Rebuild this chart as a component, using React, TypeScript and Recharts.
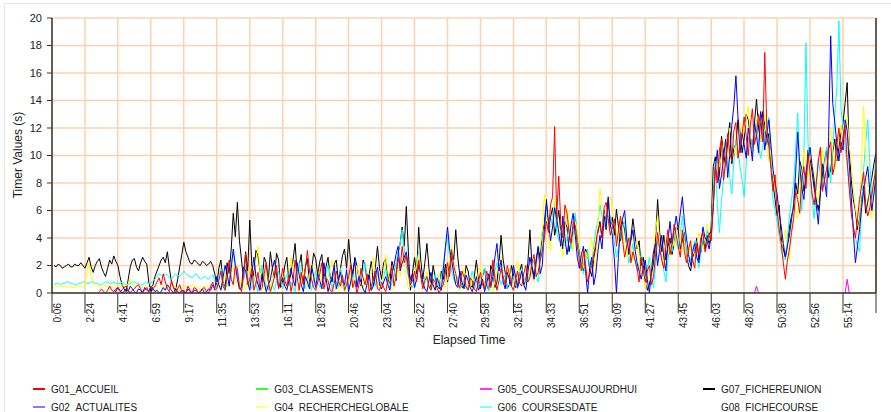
import React from 'react';
import { LineChart, Line, XAxis, YAxis, CartesianGrid } from 'recharts';

const FONT = '"Liberation Sans", Arial, sans-serif';
const _ = null;

// elapsed time axis (m:ss), one label every 2:18
const TICK_LABELS = [
  '0:06', '2:24', '4:41', '6:59', '9:17', '11:35', '13:53', '16:11', '18:29', '20:46',
  '23:04', '25:22', '27:40', '29:58', '32:16', '34:33', '36:51', '39:09', '41:27', '43:45',
  '46:03', '48:20', '50:38', '52:56', '55:14',
];
const START_S = 6;
const END_S = 3452;
const SAMPLES = 401;
const Y_TICKS = [0, 2, 4, 6, 8, 10, 12, 14, 16, 18, 20];

// timer values (s), 16 samples per tick interval
const G01: (number | null)[] = [
  _, _, _, _, _, _, _, _, _, _, _, _, _, _, _, _,
  _, _, _, _, _, _, _, 0.1, 0.3, 0.1, 0.0, 0.2, 0.5, 0.2, 0.1, 0.3,
  0.4, 0.1, 0.2, 0.4, 0.5, 0.2, 0.0, 0.2, 0.3, 0.5, 0.6, 0.3, 0.1, 0.2, 0.4, 0.1,
  0.0, 0.3, 0.5, 0.8, 1.1, 0.6, 1.4, 0.8, 0.3, 0.1, 0.9, 0.4, 0.0, 0.3, 0.6, 0.1,
  0.2, 0.0, 0.5, 0.2, 0.0, 0.4, 0.3, 0.0, 0.1, 0.3, 0.4, 0.1, 0.0, 0.5, 0.8, 0.2,
  0.3, 0.9, 1.6, 0.5, 0.2, 1.2, 2.4, 1.0, 0.6, 2.0, 1.8, 0.4, 0.1, 1.4, 2.9, 0.6,
  1.0, 1.8, 0.2, 0.7, 1.5, 0.2, 0.4, 1.4, 2.2, 0.8, 0.1, 0.6, 1.2, 2.0, 0.3, 0.9,
  1.8, 0.9, 0.5, 1.3, 0.1, 0.8, 2.4, 1.2, 0.2, 1.5, 0.6, 1.8, 3.1, 1.6, 1.0, 0.4,
  0.2, 0.8, 1.4, 2.2, 0.3, 1.1, 0.9, 0.2, 0.1, 0.7, 1.6, 0.9, 0.5, 1.3, 0.2, 0.6,
  1.2, 2.0, 0.4, 0.9, 0.0, 0.6, 1.8, 1.1, 0.6, 1.4, 0.1, 0.5, 1.0, 1.6, 0.3, 0.2,
  0.8, 0.4, 0.1, 0.9, 1.4, 2.0, 0.5, 1.2, 2.6, 1.8, 3.4, 2.2, 2.8, 1.4, 0.6, 0.9,
  1.6, 0.8, 2.4, 1.2, 0.3, 0.9, 1.2, 0.5, 0.2, 1.0, 0.8, 0.3, 0.0, 0.4, 0.6, 1.5,
  2.2, 1.2, 3.0, 2.0, 1.4, 0.6, 0.4, 1.6, 1.2, 0.5, 0.2, 1.1, 0.9, 0.3, 0.1, 0.8,
  1.5, 0.6, 0.3, 1.6, 1.0, 0.4, 2.4, 1.1, 0.2, 0.9, 1.8, 1.2, 0.6, 2.0, 1.4, 0.5,
  0.2, 0.9, 1.6, 0.7, 0.5, 1.4, 2.0, 0.8, 1.1, 2.2, 2.8, 1.2, 1.5, 2.4, 3.0, 4.0,
  5.2, 4.4, 6.4, 7.0, 12.1, 5.6, 8.5, 5.0, 4.0, 6.4, 5.8, 4.4, 3.6, 5.2, 4.9, 3.4,
  2.4, 1.6, 3.1, 2.0, 0.8, 1.4, 2.0, 2.8, 3.6, 4.6, 5.0, 4.0, 6.2, 6.6, 5.4, 4.2,
  4.8, 5.4, 3.4, 4.6, 5.6, 3.8, 2.6, 3.4, 4.0, 2.2, 3.0, 2.4, 1.8, 0.8, 2.6, 1.6,
  0.8, 1.6, 2.0, 0.6, 1.2, 2.8, 4.4, 3.2, 2.4, 1.8, 3.4, 4.6, 2.8, 3.6, 5.0, 4.2,
  3.4, 2.6, 4.6, 3.0, 2.2, 3.2, 3.8, 2.4, 1.8, 3.6, 2.8, 4.0, 4.4, 3.0, 3.6, 4.4,
  3.8, 6.4, 9.2, 8.0, 10.4, 11.2, 8.2, 9.6, 11.6, 10.2, 9.6, 11.8, 12.4, 9.8, 10.8, 11.6,
  12.8, 11.4, 10.0, 12.2, 13.4, 10.8, 11.6, 13.0, 12.2, 11.0, 17.5, 12.0, 10.6, 9.0, 7.4, 8.6,
  6.0, 4.6, 3.6, 2.2, 1.0, 2.4, 3.2, 4.4, 5.4, 7.4, 6.8, 5.8, 8.4, 9.2, 7.6, 10.0,
  8.8, 7.2, 6.4, 8.0, 9.6, 10.6, 7.4, 8.2, 9.0, 10.4, 11.0, 8.6, 9.4, 10.8, 12.0, 10.2,
  11.4, 12.2, 9.6, 7.6, 5.8, 4.8, 4.0, 5.4, 6.8, 7.8, 8.8, 6.4, 5.6, 6.2, 7.2, 8.2, 9.0,
];

const G02: (number | null)[] = [
  _, _, _, _, _, _, _, _, _, _, _, _, _, _, _, _,
  _, _, _, _, _, _, _, _, _, _, _, _, _, _, 0.2, 0.1,
  0.4, 0.2, 0.0, 0.1, 0.3, 0.1, 0.5, 0.3, 0.1, 0.0, 0.3, 0.2, 0.0, 0.4, 0.2, 0.1,
  0.5, 0.3, 0.1, 0.2, 0.0, 0.1, 0.4, 0.2, 0.6, 0.4, 0.2, 0.0, 0.3, 0.1, 0.0, 0.2,
  0.1, 0.0, 0.3, 0.1, 0.0, 0.2, 0.2, 0.0, 0.1, 0.3, 0.0, 0.1, 0.3, 0.2, 0.6, 0.3,
  1.2, 0.6, 0.2, 1.1, 2.0, 1.4, 0.5, 1.8, 3.2, 2.0, 1.0, 0.3, 0.4, 1.9, 1.6, 0.8,
  0.2, 1.4, 2.6, 1.2, 0.6, 0.2, 1.4, 0.8, 0.1, 0.6, 1.0, 1.8, 2.4, 1.3, 0.4, 0.8,
  1.1, 0.5, 0.2, 0.9, 1.8, 1.0, 0.5, 2.2, 1.3, 0.6, 0.1, 1.2, 0.8, 0.3, 2.0, 1.2,
  0.4, 1.4, 0.9, 0.3, 2.2, 1.1, 0.1, 0.7, 1.2, 2.0, 0.3, 0.9, 1.5, 0.8, 0.6, 1.7,
  0.1, 0.8, 1.6, 2.4, 0.4, 1.2, 0.8, 0.3, 0.0, 0.7, 1.3, 0.2, 0.5, 1.2, 1.9, 0.6,
  0.3, 0.8, 1.2, 0.6, 0.2, 1.4, 2.0, 2.8, 3.4, 1.6, 2.2, 2.6, 3.0, 1.8, 1.0, 1.4,
  0.4, 1.0, 2.0, 1.4, 0.8, 0.3, 0.1, 0.9, 1.5, 0.6, 0.2, 1.1, 0.6, 0.2, 1.8, 3.4,
  4.8, 3.2, 2.4, 1.4, 0.6, 0.4, 1.6, 0.8, 0.3, 1.3, 0.9, 0.4, 0.1, 0.6, 1.2, 0.2,
  0.5, 1.0, 0.1, 0.7, 1.4, 0.5, 1.2, 2.6, 3.6, 1.6, 2.4, 0.8, 0.3, 1.5, 1.0, 0.5,
  2.0, 1.2, 0.4, 0.9, 1.6, 0.6, 0.2, 1.5, 2.6, 1.8, 1.0, 2.2, 3.4, 1.4, 2.0, 4.6,
  6.6, 5.2, 3.8, 4.8, 6.2, 5.4, 4.4, 3.4, 5.6, 4.0, 2.8, 3.8, 5.0, 5.8, 4.2, 2.6,
  1.8, 2.8, 3.4, 1.6, 0.0, 1.8, 2.6, 0.6, 1.4, 3.0, 4.2, 3.2, 5.6, 4.6, 7.0, 5.0,
  4.2, 2.4, 0.0, 2.8, 4.8, 5.4, 6.0, 4.0, 3.0, 3.8, 4.6, 3.2, 2.2, 1.6, 1.0, 1.8,
  2.4, 1.0, 0.0, 1.6, 3.0, 3.6, 2.0, 3.2, 4.2, 2.6, 1.6, 3.8, 5.2, 3.6, 4.6, 5.6,
  4.6, 5.8, 7.0, 5.2, 4.0, 2.8, 2.0, 3.0, 3.6, 2.6, 2.2, 3.6, 4.8, 4.0, 3.8, 3.2,
  4.2, 6.2, 9.0, 10.4, 7.6, 8.6, 9.8, 11.2, 8.4, 10.0, 12.2, 13.6, 15.8, 12.8, 10.2, 11.6,
  10.8, 9.8, 12.0, 11.0, 9.6, 12.4, 11.4, 10.2, 13.2, 12.4, 10.4, 11.6, 12.6, 10.8, 9.0, 8.0,
  7.2, 5.8, 4.8, 3.6, 2.6, 3.4, 4.2, 5.4, 6.4, 8.8, 11.7, 9.2, 7.6, 6.8, 8.8, 9.8,
  10.6, 9.2, 8.2, 6.4, 5.0, 7.2, 9.4, 8.2, 7.0, 11.4, 18.7, 13.8, 12.4, 10.8, 9.6, 11.0,
  10.4, 12.6, 11.8, 9.4, 7.0, 4.4, 2.2, 3.4, 4.6, 6.2, 7.4, 8.4, 9.2, 7.4, 6.0, 7.2, 8.6,
];

// no G03 samples are visible in the chart
const G03: (number | null)[] = [];

const G04: (number | null)[] = [
  _, 0.4, 0.5, 0.5, 0.4, 0.5, 0.5, 0.4, 0.5, 0.5, 0.4, 0.4, 0.5, 0.5, 0.5, 0.4,
  0.6, 1.6, 2.2, 1.2, 0.9, 0.6, 0.5, 0.5, 0.4, 0.5, 0.6, 0.4, 0.5, 0.5, 0.4, 0.5,
  0.5, 0.4, 0.6, 0.5, 0.5, 0.7, 1.0, 0.6, 0.4, 0.5, 0.5, 0.4, 0.4, 0.5, 0.5, 0.4,
  0.4, 0.5, 0.5, 0.4, 0.3, 0.4, 0.6, 0.5, 0.4, 0.4, 0.5, 0.5, 0.4, 0.3, 0.3, 0.4,
  0.5, 0.5, 0.4, 0.5, 0.6, 0.5, 0.5, 0.4, 0.3, 0.4, 0.5, 0.5, 0.4, 0.4, 0.5, 0.6,
  0.8, 0.5, 0.2, 0.9, 1.4, 0.6, 0.4, 1.5, 2.0, 1.1, 0.6, 0.2, 1.2, 0.7, 0.3, 1.2,
  2.0, 0.6, 1.0, 2.4, 3.4, 1.6, 0.6, 0.2, 1.6, 1.0, 0.2, 1.2, 2.2, 1.4, 0.5, 0.9,
  1.4, 0.7, 0.3, 1.2, 2.6, 1.6, 0.8, 0.4, 0.1, 0.9, 1.7, 1.1, 0.4, 1.5, 2.2, 1.3,
  0.6, 1.0, 1.8, 0.8, 0.2, 0.6, 1.2, 1.8, 2.4, 1.4, 0.5, 0.2, 0.9, 0.5, 0.1, 0.8,
  1.5, 0.9, 0.4, 1.3, 2.0, 1.2, 0.6, 0.3, 1.1, 0.7, 0.2, 1.6, 2.6, 1.4, 0.8, 0.4,
  0.3, 1.6, 2.8, 1.6, 0.9, 0.2, 0.4, 1.2, 1.8, 1.2, 2.6, 2.0, 1.2, 0.3, 0.5, 0.9,
  1.2, 2.0, 2.8, 1.3, 0.4, 0.9, 1.6, 1.0, 0.6, 0.3, 0.2, 0.8, 1.4, 0.6, 0.3, 0.7,
  1.0, 2.4, 3.6, 1.6, 0.8, 0.4, 0.2, 1.1, 1.8, 1.0, 0.5, 0.3, 1.2, 0.8, 0.6, 1.5,
  2.0, 1.1, 0.4, 0.6, 1.2, 0.5, 0.1, 0.9, 1.6, 2.1, 2.6, 1.2, 0.5, 1.1, 1.8, 1.0,
  0.6, 1.4, 2.4, 1.5, 1.0, 0.5, 0.3, 1.2, 1.9, 1.2, 0.8, 1.6, 2.8, 3.4, 4.4, 7.2,
  6.0, 4.2, 3.0, 5.2, 7.0, 5.6, 4.6, 3.4, 2.6, 4.2, 6.2, 5.0, 4.0, 3.2, 5.2, 4.6,
  3.6, 2.4, 1.8, 3.0, 2.6, 3.2, 4.0, 2.6, 1.6, 5.0, 7.6, 6.4, 5.8, 4.4, 5.0, 7.0,
  6.2, 5.0, 4.4, 3.6, 5.6, 4.6, 3.2, 2.6, 4.2, 3.4, 2.4, 3.0, 3.8, 2.4, 1.6, 1.0,
  0.4, 0.8, 1.2, 2.2, 3.2, 4.6, 5.6, 3.6, 2.0, 3.0, 4.0, 3.2, 2.6, 4.2, 3.4, 4.6,
  5.4, 4.2, 3.0, 3.8, 2.4, 2.8, 3.6, 3.0, 2.8, 3.6, 4.4, 3.8, 3.2, 4.0, 5.0, 4.4,
  4.0, 6.6, 8.4, 10.2, 9.2, 10.0, 11.0, 9.8, 9.4, 12.0, 11.6, 10.6, 10.0, 11.4, 12.4, 10.8,
  11.8, 12.6, 13.6, 11.4, 10.2, 11.8, 12.4, 13.0, 11.0, 12.0, 13.0, 11.0, 9.6, 10.4, 8.6, 7.6,
  6.6, 5.0, 3.2, 3.8, 4.6, 3.4, 2.4, 4.8, 7.0, 6.0, 5.4, 7.4, 8.6, 10.4, 9.4, 8.4,
  10.0, 9.4, 8.8, 7.4, 6.4, 8.6, 10.6, 9.2, 8.0, 10.2, 12.0, 10.4, 9.0, 10.0, 11.4, 12.2,
  10.6, 11.6, 12.8, 10.8, 9.4, 7.6, 6.2, 5.2, 4.4, 9.8, 13.6, 10.6, 8.0, 6.4, 5.4, 7.8, 9.6,
];

const G05: (number | null)[] = [
  _, _, _, _, _, _, _, _, _, _, _, _, _, _, _, _,
  _, _, _, _, _, _, _, _, _, _, _, _, _, _, _, _,
  _, _, _, _, _, _, _, _, _, _, _, _, _, _, _, _,
  _, _, _, _, _, _, _, _, _, _, _, _, _, _, _, _,
  _, _, _, _, _, _, _, _, _, _, _, _, _, _, _, _,
  _, _, _, _, _, _, _, _, _, _, _, _, _, _, _, _,
  _, _, _, _, _, _, _, _, _, _, _, _, _, _, _, _,
  _, _, _, _, _, _, _, _, _, _, _, _, _, _, _, _,
  _, _, _, _, _, _, _, _, _, _, _, _, _, _, _, _,
  _, _, _, _, _, _, _, _, _, _, _, _, _, _, _, _,
  _, _, _, _, _, _, _, _, _, _, _, _, _, _, _, _,
  _, _, _, _, _, _, _, _, _, _, _, _, _, _, _, _,
  _, _, _, _, _, _, _, _, _, _, _, _, _, _, _, _,
  _, _, _, _, _, _, _, _, _, _, _, _, _, _, _, _,
  _, _, _, _, _, _, _, _, _, _, _, _, _, _, _, _,
  _, _, _, _, _, _, _, _, _, _, _, _, _, _, _, _,
  _, _, _, _, _, _, _, _, _, _, _, _, _, _, _, _,
  _, _, _, _, _, _, _, _, _, _, _, _, _, _, _, _,
  _, _, _, _, _, _, _, _, _, _, _, _, _, _, _, _,
  _, _, _, _, _, _, _, _, _, _, _, _, _, _, _, _,
  _, _, _, _, _, _, _, _, _, _, _, _, _, _, _, _,
  _, _, _, _, _, 0.0, 0.5, 0.0, _, _, _, _, _, _, _, _,
  _, _, _, _, _, _, _, _, _, _, _, _, _, _, _, _,
  _, _, _, _, _, _, _, _, _, _, _, _, _, _, _, _,
  _, 0.0, 1.0, 0.0, _, _, _, _, _, _, _, _, _, _, _, _, _,
];

const G06: (number | null)[] = [
  _, 0.6, 0.7, 0.7, 0.6, 0.7, 0.7, 0.8, 0.8, 0.7, 0.7, 0.6, 0.6, 0.7, 0.7, 0.8,
  0.8, 0.7, 0.7, 0.8, 0.8, 0.7, 0.7, 0.6, 0.6, 0.7, 0.8, 0.8, 0.7, 0.7, 0.8, 0.7,
  0.7, 0.7, 0.8, 0.7, 0.6, 0.6, 0.7, 0.8, 0.8, 0.7, 0.7, 0.6, 0.6, 0.7, 0.8, 0.7,
  0.7, 0.9, 1.0, 1.2, 1.4, 1.3, 1.2, 1.4, 1.3, 1.1, 1.0, 1.2, 1.4, 1.3, 1.2, 1.4,
  1.6, 1.4, 1.3, 1.2, 1.1, 1.3, 1.4, 1.2, 1.0, 1.1, 1.2, 1.1, 1.0, 1.2, 1.3, 0.9,
  0.4, 1.2, 1.8, 0.8, 0.2, 0.6, 1.0, 2.2, 3.0, 2.0, 1.4, 0.7, 0.3, 1.1, 2.0, 1.2,
  0.6, 0.3, 1.2, 0.6, 0.1, 1.1, 2.0, 1.2, 0.5, 0.2, 1.0, 0.6, 0.2, 0.9, 1.6, 0.8,
  0.3, 0.9, 1.4, 0.5, 0.8, 0.4, 0.1, 1.3, 2.2, 1.1, 0.6, 0.3, 1.2, 0.7, 0.2, 1.0,
  1.6, 0.8, 0.4, 0.6, 1.0, 1.4, 2.0, 1.0, 0.3, 1.2, 0.8, 0.4, 1.8, 1.2, 0.5, 0.9,
  0.2, 0.7, 1.4, 0.9, 0.6, 1.3, 1.0, 1.6, 2.2, 1.0, 0.4, 0.2, 0.9, 0.5, 1.5, 1.0,
  0.6, 1.2, 1.8, 0.9, 0.3, 0.7, 1.2, 2.2, 3.0, 3.6, 4.6, 3.2, 2.0, 1.2, 0.8, 0.4,
  1.0, 2.2, 3.0, 1.4, 0.5, 1.2, 0.9, 0.4, 0.2, 0.8, 1.3, 0.7, 0.4, 1.1, 2.0, 3.2,
  4.2, 2.6, 1.6, 1.0, 0.7, 1.2, 0.2, 0.6, 1.0, 0.3, 0.4, 0.9, 1.6, 0.8, 0.3, 0.5,
  0.8, 1.3, 1.8, 0.8, 0.2, 0.5, 1.0, 1.6, 2.2, 1.2, 0.6, 0.9, 1.4, 0.3, 0.5, 1.0,
  1.2, 0.6, 0.3, 1.0, 1.8, 1.2, 0.7, 0.9, 1.4, 1.9, 2.4, 1.3, 0.8, 2.2, 3.6, 4.8,
  5.8, 5.0, 4.8, 5.6, 6.6, 4.4, 3.8, 4.6, 5.2, 3.4, 4.0, 4.8, 3.2, 4.2, 5.8, 3.8,
  2.8, 2.0, 1.4, 2.2, 3.2, 1.8, 2.2, 3.4, 4.6, 5.2, 6.4, 5.6, 4.8, 5.4, 6.0, 5.6,
  5.0, 3.6, 2.6, 3.4, 4.2, 4.8, 5.2, 3.4, 2.2, 2.8, 3.6, 2.4, 1.6, 2.2, 2.8, 1.8,
  1.0, 1.8, 2.6, 1.2, 0.4, 2.0, 3.8, 3.2, 2.8, 1.6, 0.8, 2.4, 3.6, 3.0, 4.4, 3.6,
  3.2, 4.4, 5.6, 4.0, 3.0, 2.2, 2.4, 3.2, 3.8, 2.6, 1.8, 3.0, 4.0, 3.6, 4.6, 3.8,
  4.4, 7.6, 9.6, 6.4, 4.4, 6.8, 8.2, 9.4, 10.0, 8.4, 7.2, 9.6, 11.2, 10.4, 9.2, 8.2,
  7.0, 9.4, 11.4, 10.8, 10.0, 11.6, 12.6, 10.6, 9.8, 10.6, 11.8, 12.2, 12.8, 9.6, 6.8, 6.0,
  5.2, 4.2, 3.0, 2.6, 2.4, 4.0, 5.6, 6.8, 8.0, 10.4, 13.1, 8.6, 6.0, 10.2, 18.2, 11.0,
  8.4, 6.8, 5.4, 7.4, 9.8, 8.6, 7.6, 9.2, 10.6, 9.4, 8.0, 10.4, 13.0, 15.0, 19.8, 13.4,
  12.0, 10.6, 9.4, 7.8, 6.4, 5.0, 4.0, 3.4, 3.0, 6.2, 9.0, 11.0, 12.6, 9.4, 6.8, 8.2, 9.8,
];

const G07: (number | null)[] = [
  _, 2.0, 1.9, 2.1, 2.0, 1.8, 1.9, 2.0, 2.1, 1.9, 1.9, 2.1, 2.0, 2.0, 2.2, 2.0,
  1.8, 2.2, 2.6, 1.9, 1.5, 2.0, 2.3, 2.5, 1.9, 1.5, 1.2, 1.8, 2.4, 2.1, 2.7, 2.3,
  2.0, 1.2, 0.6, 0.3, 0.1, 1.0, 1.9, 2.4, 2.5, 1.9, 1.6, 2.2, 2.6, 2.3, 2.1, 0.8,
  0.1, 0.6, 1.2, 1.6, 2.0, 2.4, 2.6, 2.2, 3.0, 1.8, 0.8, 0.4, 0.2, 1.0, 1.9, 2.8,
  3.7, 3.0, 2.6, 2.2, 2.1, 2.4, 2.3, 2.1, 2.0, 2.3, 2.2, 2.0, 2.1, 2.3, 2.0, 1.4,
  0.6, 1.8, 2.4, 0.9, 0.3, 2.2, 1.4, 3.2, 5.8, 4.1, 6.6, 3.8, 2.4, 1.0, 3.0, 1.6,
  5.3, 2.0, 1.2, 3.1, 2.7, 1.6, 0.8, 2.6, 2.2, 0.9, 3.0, 1.8, 1.1, 2.9, 2.4, 0.4,
  0.9, 2.0, 2.6, 0.8, 1.4, 2.4, 3.6, 1.5, 2.0, 2.8, 0.7, 1.9, 2.5, 0.6, 1.6, 2.9,
  2.5, 1.3, 2.3, 2.8, 1.0, 1.9, 2.6, 1.2, 0.8, 2.1, 2.4, 0.9, 1.7, 2.7, 3.2, 1.8,
  3.9, 2.2, 1.2, 2.6, 2.0, 1.1, 0.5, 2.4, 2.0, 0.8, 1.4, 2.3, 0.6, 1.9, 3.4, 1.8,
  1.0, 2.2, 2.5, 1.0, 0.7, 2.3, 1.8, 0.9, 2.9, 3.6, 4.8, 3.4, 6.3, 3.0, 0.2, 1.5,
  2.6, 1.4, 4.8, 2.4, 1.0, 2.2, 3.6, 1.8, 0.4, 2.0, 1.2, 0.5, 0.3, 1.6, 1.0, 2.1,
  0.8, 2.0, 3.2, 2.4, 4.6, 2.6, 1.2, 0.4, 0.5, 2.0, 1.6, 0.6, 0.4, 1.2, 2.4, 1.0,
  0.3, 1.2, 1.8, 0.6, 0.2, 2.0, 1.6, 0.4, 0.8, 2.2, 4.2, 2.4, 1.5, 0.3, 0.6, 2.0,
  1.4, 0.4, 0.5, 1.6, 2.1, 0.6, 0.9, 2.2, 4.6, 2.0, 1.2, 2.4, 3.3, 2.5, 4.3, 5.0,
  6.8, 4.6, 5.5, 6.2, 4.2, 5.0, 6.0, 4.4, 3.2, 5.2, 4.8, 3.0, 3.8, 4.6, 5.6, 3.8,
  3.0, 2.2, 1.6, 3.2, 2.8, 1.8, 1.2, 2.5, 3.4, 4.4, 5.2, 4.0, 6.0, 5.0, 6.8, 4.8,
  5.5, 4.2, 6.1, 4.8, 3.8, 5.2, 4.6, 3.4, 2.8, 4.0, 5.4, 4.2, 3.2, 3.8, 2.0, 2.6,
  1.4, 0.2, 0.6, 1.4, 2.2, 4.0, 6.8, 4.4, 3.0, 4.2, 2.4, 3.4, 4.0, 2.8, 3.6, 4.8,
  4.6, 3.2, 3.8, 4.4, 2.8, 2.0, 1.6, 2.6, 3.0, 4.0, 2.4, 3.0, 3.8, 3.2, 4.2, 3.6,
  4.8, 9.2, 9.9, 8.0, 8.6, 11.4, 10.2, 9.2, 11.0, 12.4, 9.4, 10.6, 10.8, 12.6, 12.0, 10.2,
  11.2, 13.0, 12.6, 11.4, 10.4, 12.4, 14.1, 12.0, 11.0, 13.2, 12.2, 10.8, 11.6, 9.6, 8.0, 6.8,
  5.6, 6.4, 4.0, 3.2, 2.6, 3.6, 4.8, 5.6, 6.2, 8.0, 7.2, 9.6, 9.0, 7.4, 8.2, 10.4,
  9.8, 8.8, 7.6, 6.8, 6.0, 7.4, 8.6, 9.6, 10.4, 8.4, 9.0, 10.2, 11.2, 9.6, 10.6, 11.6,
  12.4, 13.8, 15.3, 10.4, 8.2, 6.8, 6.0, 4.6, 5.4, 6.8, 7.8, 5.8, 6.6, 7.6, 8.4, 9.4, 10.2,
];

// no G08 samples are visible in the chart
const G08: (number | null)[] = [];

const SERIES = [
  { name: 'G01_ACCUEIL', values: G01, color: '#ff0000', swatch: '#ff0000' },
  { name: 'G02_ACTUALITES', values: G02, color: '#0000ff', swatch: '#8080ff' },
  { name: 'G03_CLASSEMENTS', values: G03, color: '#00ff00', swatch: '#33ff33' },
  { name: 'G04_RECHERCHEGLOBALE', values: G04, color: '#ffff00', swatch: '#ffff80' },
  { name: 'G05_COURSESAUJOURDHUI', values: G05, color: '#ff00ff', swatch: '#ff33ff' },
  { name: 'G06_COURSESDATE', values: G06, color: '#00ffff', swatch: '#80ffff' },
  { name: 'G07_FICHEREUNION', values: G07, color: '#000000', swatch: '#000000' },
  { name: 'G08_FICHECOURSE', values: G08, color: '#ffc800', swatch: 'transparent' },
];

const toSec = (s: string) => {
  const [m, sec] = s.split(':').map(Number);
  return m * 60 + sec;
};
const TICK_SEC = TICK_LABELS.map(toSec);

const rows = Array.from({ length: SAMPLES }, (_v, i) => {
  const row: Record<string, number | null> = {
    t: START_S + (i * (END_S - START_S)) / (SAMPLES - 1),
  };
  SERIES.forEach((s) => {
    row[s.name] = s.values[i] ?? null;
  });
  return row;
});

const XTick = (props: any) => {
  const { x, y, payload } = props;
  const idx = TICK_SEC.indexOf(payload.value);
  const label = idx >= 0 ? TICK_LABELS[idx] : '';
  return (
    <text
      transform={`translate(${x + 5.5},${y - 10}) rotate(-90)`}
      textAnchor="end"
      dominantBaseline="central"
      fontSize={10}
      fill="#222"
      fontFamily={FONT}
    >
      {label}
    </text>
  );
};

// right-hand labels run off the picture edge, as in the original
const RightTick = (props: any) => {
  const { y, payload } = props;
  return (
    <text x={886} y={y} dominantBaseline="central" fontSize={11} fill="#222" fontFamily={FONT}>
      {payload.value}
    </text>
  );
};

const axisStroke = { stroke: '#333', strokeWidth: 1.5 };

export default function App() {
  return (
    <div
      style={{
        position: 'absolute',
        left: 0,
        top: 0,
        width: 891,
        height: 412,
        background: '#fff',
        overflow: 'hidden',
        fontFamily: FONT,
      }}
    >
      <div
        style={{
          position: 'absolute',
          left: 4,
          top: 3,
          right: 0,
          bottom: 0,
          borderTop: '1px solid #e6e6e6',
          borderLeft: '1px solid #e6e6e6',
        }}
      />
      <LineChart width={891} height={412} data={rows} margin={{ top: 18, right: 0, bottom: 0, left: 0 }}>
        <CartesianGrid yAxisId="left" stroke="#fbd3b0" strokeWidth={1.5} />
        <XAxis
          dataKey="t"
          type="number"
          domain={[START_S, END_S]}
          ticks={[...TICK_SEC, END_S]}
          interval={0}
          height={119}
          tickSize={20}
          tickMargin={0}
          tick={<XTick />}
          axisLine={axisStroke}
          tickLine={{ stroke: '#333' }}
          allowDataOverflow
        />
        <YAxis
          yAxisId="left"
          domain={[0, 20]}
          ticks={Y_TICKS}
          interval={0}
          width={52}
          tickSize={5}
          tickMargin={5}
          tick={{ fontSize: 11, fill: '#222', fontFamily: FONT }}
          axisLine={axisStroke}
          tickLine={{ stroke: '#333' }}
        />
        <YAxis
          yAxisId="right"
          orientation="right"
          domain={[0, 20]}
          ticks={Y_TICKS}
          interval={0}
          width={15}
          tickSize={5}
          tick={<RightTick />}
          axisLine={axisStroke}
          tickLine={{ stroke: '#333' }}
        />
        {[...SERIES].reverse().map((s) => (
          <Line
            key={s.name}
            yAxisId="left"
            type="linear"
            dataKey={s.name}
            stroke={s.color}
            strokeWidth={1}
            dot={false}
            activeDot={false}
            isAnimationActive={false}
          />
        ))}
      </LineChart>
      <svg
        width={891}
        height={412}
        style={{ position: 'absolute', left: 0, top: 0, pointerEvents: 'none' }}
      >
        <text x={469} y={344} textAnchor="middle" fontSize={12} fill="#222" fontFamily={FONT}>
          Elapsed Time
        </text>
        <text
          transform="translate(18,155) rotate(-90)"
          textAnchor="middle"
          dominantBaseline="central"
          fontSize={12}
          fill="#222"
          fontFamily={FONT}
        >
          Timer Values (s)
        </text>
      </svg>
      {SERIES.map((s, i) => {
        const col = Math.floor(i / 2);
        const row = i % 2;
        const textX = 51 + col * 223.3;
        const cy = 389 + row * 18;
        return (
          <div
            key={s.name}
            style={{ position: 'absolute', left: textX - 18, top: cy - 7, height: 14, display: 'flex', alignItems: 'center' }}
          >
            <span
              style={{
                display: 'inline-block',
                width: 12,
                height: s.name === 'G07_FICHEREUNION' ? 1.5 : 2,
                background: s.swatch,
                marginRight: 6,
              }}
            />
            <span style={{ fontSize: 10, color: '#222', whiteSpace: 'nowrap' }}>{s.name}</span>
          </div>
        );
      })}
    </div>
  );
}
